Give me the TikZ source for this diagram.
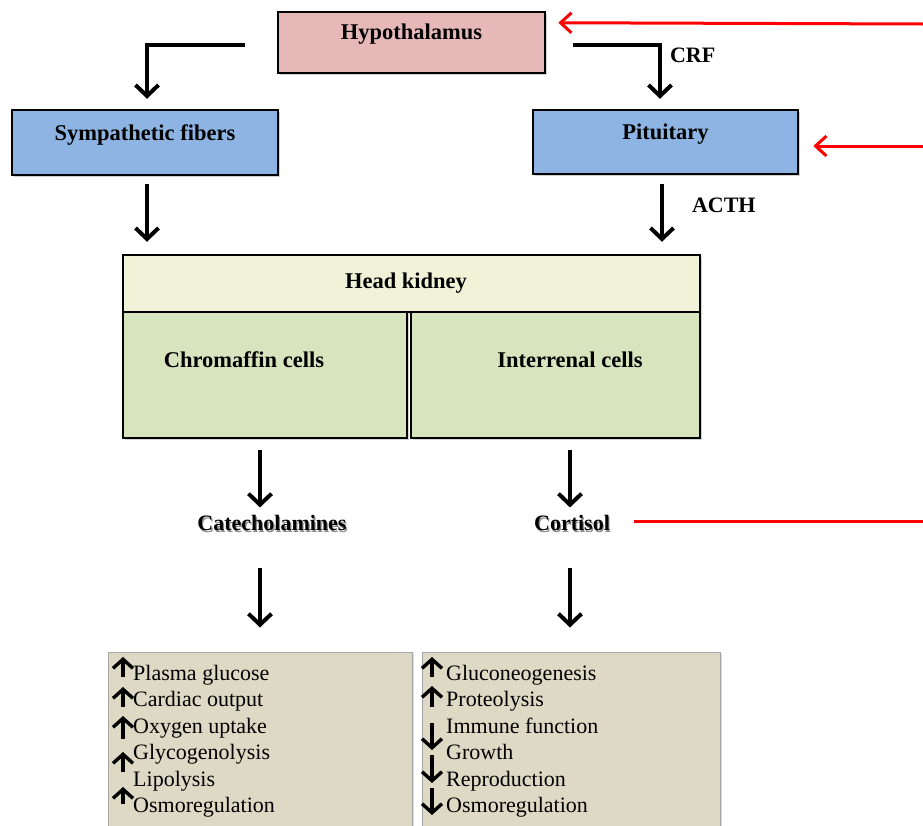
\documentclass[tikz,border=0pt]{standalone}
\usepackage{fontspec}
\setmainfont{Liberation Serif}
\usepackage{tikz}
\usetikzlibrary{arrows.meta,calc,positioning,shadows}
\definecolor{hypofill}{HTML}{E6B9B8}
\definecolor{nervefill}{HTML}{8DB4E2}
\definecolor{kidneyfill}{HTML}{F1F3D8}
\definecolor{cellfill}{HTML}{D7E4BD}
\definecolor{effectfill}{HTML}{DDD9C4}
\newcommand\halotext[1]{\leavevmode\rlap{\color{black!45}\hspace{1.2pt}\raisebox{-1.2pt}{#1}}#1}
\tikzset{
	stress axis/.style={
		x=1pt, y=-1pt,
		font=\fontsize{22}{26.4}\selectfont,
		ar/.style={line width=4pt, -{Straight Barb[length=11pt,width=23pt]}},
		fb/.style={draw=red, line width=3pt},
		fbar/.style={fb, -{Straight Barb[length=11pt,width=20pt]}},
		tag/.style={inner sep=0pt, font=\fontsize{22}{24}\selectfont\bfseries},
		hormone/.style={inner sep=0pt, font=\fontsize{22}{24}\selectfont\bfseries},
		rise/.style={line width=3.4pt, -{Straight Barb[length=9pt,width=20pt]}},
		},
	organ/.style 2 args={
		draw=black, line width=2.5pt, rectangle, inner sep=0pt,
		minimum width=#1, minimum height=#2,
		font=\fontsize{22.5}{24}\selectfont\bfseries,
		drop shadow={opacity=.35, shadow xshift=2pt, shadow yshift=-2pt}},
	effects/.style={
		draw=black!35, line width=1pt, fill=effectfill, rectangle,
		minimum width=#1, minimum height=190,
		drop shadow={opacity=.3, shadow xshift=2pt, shadow yshift=-2pt}},
	effect list/.style={inner sep=0pt, align=left, anchor=north west,
		font=\fontsize{22}{26.4}\selectfont}
}

\begin{document}
\begin{tikzpicture}[stress axis]
  \useasboundingbox[fill=white] (0,0) rectangle (923,825);
  % glands
  \node[organ={267}{61}, fill=hypofill, text height=15pt, text depth=22pt] (hyp) at (411.5,42.5) {Hypothalamus};
  \node[organ={266}{65}, fill=nervefill, text height=15pt, text depth=20pt] (symp) at (145,142.5) {Sympathetic fibers};
  \node[organ={265}{64}, fill=nervefill, text height=15pt, text depth=20pt] (pit) at (665.5,142) {Pituitary};
  % head kidney
  \node[organ={577}{57}, fill=kidneyfill] (head) at (411.5,283.5) {Head kidney\hspace*{11pt}};
  \node[organ={284}{126}, fill=cellfill, text height=15pt, text depth=31pt] (chrom) at (265,375) {Chromaffin cells\hspace*{42pt}};
  \node[organ={289}{126}, fill=cellfill, text height=15pt, text depth=31pt] (inter) at (555.5,375) {\hspace*{29pt}Interrenal cells};
  % hormones
  \node[hormone] (cat) at (272,524) {\halotext{Catecholamines}};
  \node[hormone] (cort) at (572,524) {\halotext{Cortisol}};
  % effects
  \node[effects=304] (effL) at (260,747) {};
  \node[effects=298] (effR) at (571,747) {};
  \node[effect list] (listL) at (133,665) {Plasma glucose\\Cardiac output\\Oxygen uptake\\Glycogenolysis\\Lipolysis\\Osmoregulation};
  \node[effect list] (listR) at (446,665) {Gluconeogenesis\\Proteolysis\\Immune function\\Growth\\Reproduction\\Osmoregulation};
  \foreach \t/\b in {657/677, 687/707, 716/739, 752/772, 787/804}
    \draw[rise] (123,\b) -- (123,\t);
  \foreach \t/\b in {657/677, 686/707}
    \draw[rise] (432,\b) -- (432,\t);
  \foreach \t/\b in {723/750, 755/783, 788/815}
    \draw[rise] (432,\t) -- (432,\b);
  % axis
  \draw[ar] ($(hyp.west)+(-32,2.5)$) -| ($(symp.north)+(2,-10)$);
  \draw[ar] ($(hyp.east)+(27,2.5)$) -| ($(pit.north)+(-5.5,-10)$)
        node[tag, pos=0.6, anchor=west, xshift=8pt] (crf) {CRF};
  \draw[ar] ($(symp.south)+(2,8)$) -- ($(symp.south |- head.north)+(2,-12)$);
  \draw[ar] ($(pit.south)+(-3.5,9)$) -- ($(pit.south |- head.north)+(-3.5,-12)$)
        node[tag, midway, anchor=west, xshift=28pt, yshift=8pt] (acth) {ACTH};
  \draw[ar] ($(chrom.south -| cat.north)+(-12,11)$) -- ($(cat.north)+(-12,-8)$);
  \draw[ar] ($(inter.south -| cort.north)+(-2,11)$) -- ($(cort.north)+(-2,-8)$);
  \draw[ar] ($(cat.south)+(-12,35)$) -- ($(cat.south |- effL.north)+(-12,-24)$);
  \draw[ar] ($(cort.south)+(-2,35)$) -- ($(cort.south |- effR.north)+(-2,-24)$);
  % feedback
  \coordinate (fbhyp) at (923,24);
  \coordinate (fbpit) at (923,146);
  \coordinate (fbcort) at (923,521);
  \draw[fbar] (fbhyp) -- ($(hyp.north east)+(12,12)$);
  \draw[fbar] (fbpit) -- ($(pit.east)+(14,4)$);
  \draw[fb] ($(cort.east)+(24,-3)$) -- (fbcort);
\end{tikzpicture}
\end{document}
